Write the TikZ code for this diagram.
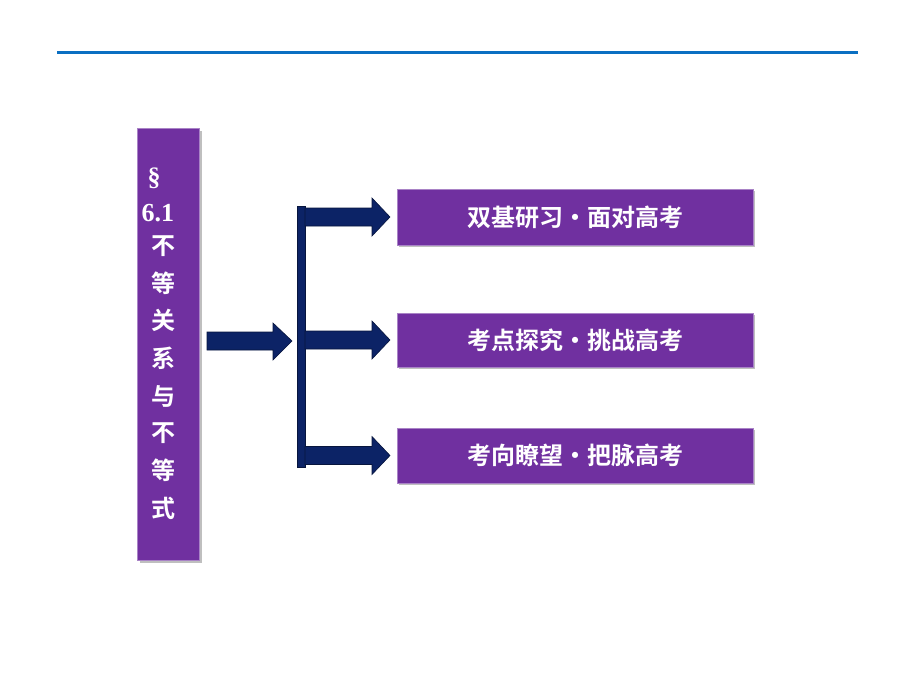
\documentclass[tikz,border=0pt]{standalone}
\usepackage{fontspec}
\usetikzlibrary{shadows}
\newfontfamily\cjk{Noto Sans CJK SC}[BoldFont={* Bold}]
\setmainfont{Liberation Serif}
\definecolor{pur}{HTML}{7030A0}
\definecolor{navy}{HTML}{0C2366}
\definecolor{topblue}{HTML}{0A6FC2}
\begin{document}
\begin{tikzpicture}[x=1pt,y=-1pt,
  box/.style={draw=pur!60!white,line width=1pt,fill=pur,drop shadow},
  lbl/.style={text=white,font=\cjk\bfseries\fontsize{24}{24}\selectfont},
  arr/.style={fill=navy,draw=navy!60!black,line width=0.6pt}]
\useasboundingbox (0,0) rectangle (920,690);
\draw[topblue,line width=3pt] (57,53) -- (858,53);
% left box
\node[box,minimum width=62pt,minimum height=432pt,inner sep=0pt,anchor=north west] (L) at (137,128) {};
\foreach \t/\y in {不/246,等/283,关/320,系/358,与/396,不/433,等/470,式/508}
  \node[text=white,font=\cjk\bfseries\fontsize{24}{24}\selectfont] at (163,\y) {\t};
\node[text=white,font=\bfseries\fontsize{26}{26}\selectfont,anchor=west] (sec) at (144,178) {\S};
\node[text=white,font=\bfseries\fontsize{26}{26}\selectfont,anchor=west] (num) at (138,213) {6.1};
% main arrow
\draw[arr] (207,332) -- (273,332) -- (273,323) -- (292,341) -- (273,360) -- (273,350) -- (207,350) -- cycle;
% bar
\draw[arr] (297,206) rectangle (305,467);
% boxes
\foreach \n/\y/\h/\t in {a/217/56/双基研习•面对高考,b/340/54/考点探究•挑战高考,c/455.5/55/考向瞭望•把脉高考}{
  \draw[arr] (305,\y-9) -- (372,\y-9) -- (372,\y-19) -- (390,\y) -- (372,\y+19) -- (372,\y+9) -- (305,\y+9) -- cycle;
  \node[box,minimum width=356pt,minimum height=\h pt,inner sep=0pt] (\n) at (575,\y) {};
  \node[lbl] at (\n) {\t};
}
\end{tikzpicture}
\end{document}
